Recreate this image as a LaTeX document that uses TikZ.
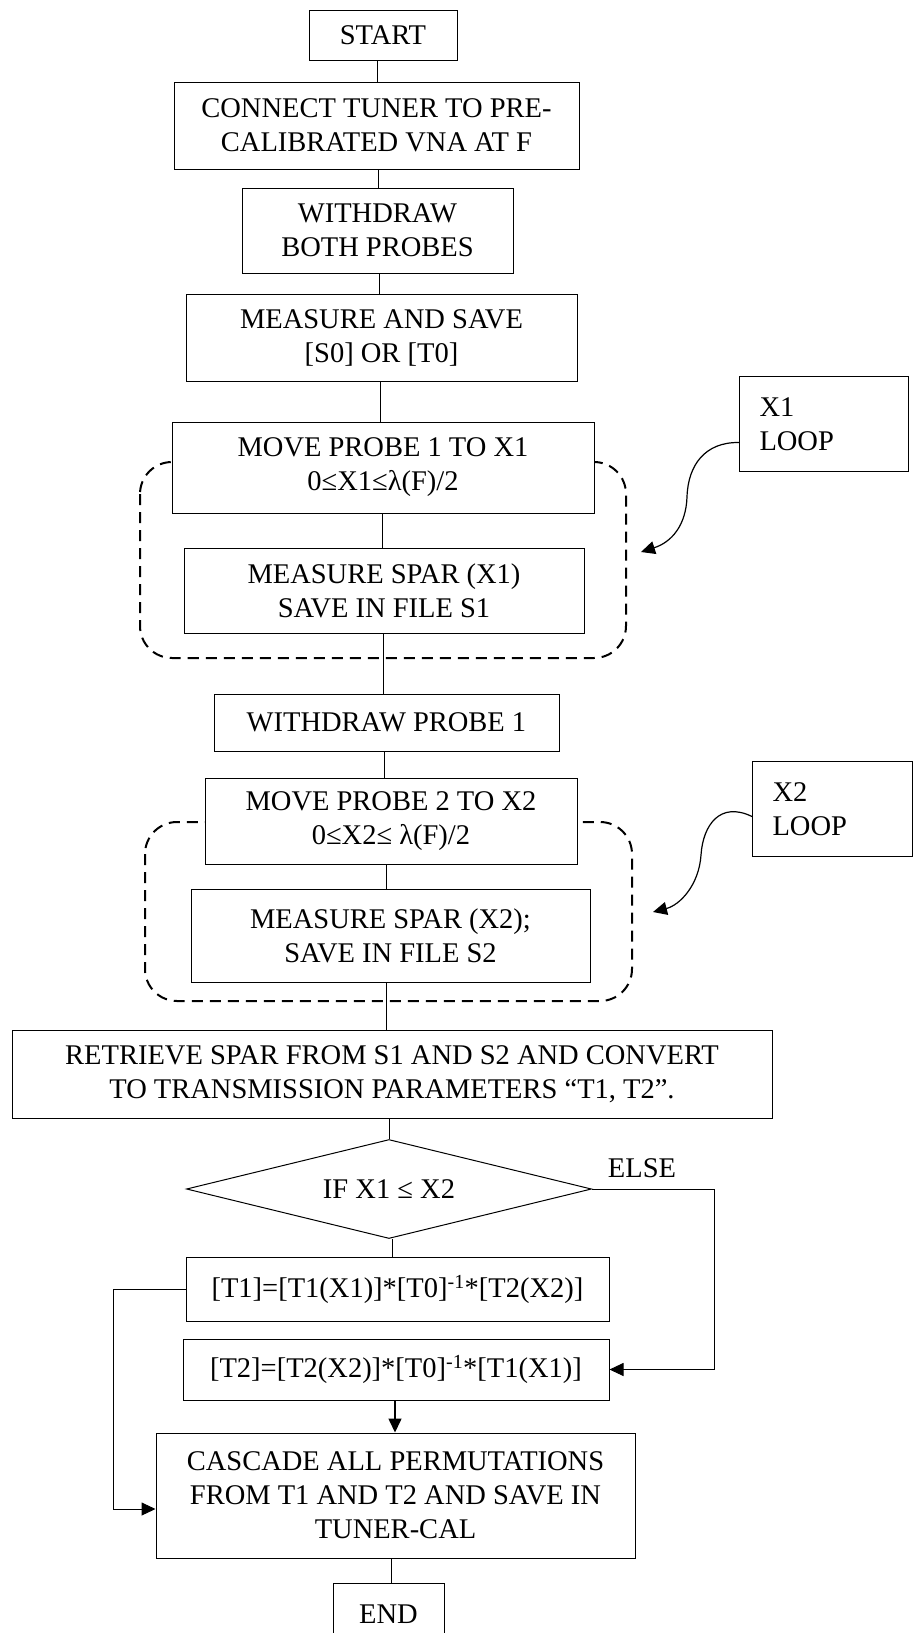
\documentclass[tikz,border=0pt]{standalone}
\usepackage{fontspec}
\setmainfont{Liberation Serif}
\usetikzlibrary{arrows.meta,shapes.geometric}

% vertical connector at a fixed x between the bottom of #2 and the top of #3
\newcommand\vlink[4][]{%
  \coordinate (vx) at (#4,0);
  \draw[conn,#1] (#2.south -| vx) -- (#3.north -| vx);}

\begin{document}
\begin{tikzpicture}[x=1pt,y=-1pt,
  every node/.style={font=\fontsize{28.5}{34}\selectfont},
  box/.style={draw, line width=1pt, fill=white, inner sep=0pt, align=center},
  note/.style={draw, line width=1pt, fill=white, inner ysep=0pt, inner xsep=20pt,
               align=left, anchor=north west},
  conn/.style={line width=1pt},
  arr/.style={line width=1.2pt, -{Triangle[length=14pt,width=13pt]}},
  loopframe/.style={line width=2pt, dash pattern=on 11pt off 7pt, rounded corners=32pt},
]
\useasboundingbox (0,0) rectangle (914,1633);

% dashed frames of the two measurement loops (boxes are drawn on top)
\draw[loopframe] (140,462) rectangle (626,658);
\draw[loopframe] (145,822) rectangle (632,1001);

% process boxes
\node[box, minimum width=148pt, minimum height=50pt] (start) at (383,35) {START};
\node[box, minimum width=405pt, minimum height=87pt] (connect) at (376.5,125.5)
  {CONNECT TUNER TO PRE-\\CALIBRATED VNA AT F};
\node[box, minimum width=271pt, minimum height=85pt] (wboth) at (377.5,230.5)
  {WITHDRAW\\BOTH PROBES};
\node[box, minimum width=391pt, minimum height=87pt] (msave) at (381.5,337.5)
  {MEASURE AND SAVE\\{}[S0] OR [T0]};
\node[box, minimum width=422pt, minimum height=91pt] (move1) at (383,467.5)
  {MOVE PROBE 1 TO X1\\0≤X1≤λ(F)/2};
\node[box, minimum width=400pt, minimum height=85pt] (spar1) at (384,590.5)
  {MEASURE SPAR (X1)\\SAVE IN FILE S1};
\node[box, minimum width=345pt, minimum height=57pt] (wone) at (386.5,722.5)
  {WITHDRAW PROBE 1};
\node[box, minimum width=372pt, minimum height=86pt] (move2) at (391,821)
  {MOVE PROBE 2 TO X2\\0≤X2≤ λ(F)/2};
\node[box, minimum width=399pt, minimum height=93pt] (spar2) at (390.5,935.5)
  {MEASURE SPAR (X2);\\SAVE IN FILE S2};
\node[box, minimum width=760pt, minimum height=88pt] (retr) at (392,1074)
  {RETRIEVE SPAR FROM S1 AND S2 AND CONVERT\\TO TRANSMISSION PARAMETERS “T1, T2”.};
\node[box, diamond, aspect=4, minimum width=405pt, minimum height=99pt] (dia) at (389,1189)
  {IF X1 ≤ X2};
\node (elsetxt) at (642,1168) {ELSE};
\node[box, minimum width=423pt, minimum height=64pt] (t1) at (397.5,1289)
  {[T1]=[T1(X1)]*[T0]\textsuperscript{-1}*[T2(X2)]};
\node[box, minimum width=426pt, minimum height=61pt] (t2) at (396,1369.5)
  {[T2]=[T2(X2)]*[T0]\textsuperscript{-1}*[T1(X1)]};
\node[box, minimum width=479pt, minimum height=125pt] (casc) at (395.5,1495.5)
  {CASCADE ALL PERMUTATIONS\\FROM T1 AND T2 AND SAVE IN\\TUNER-CAL};
\node[box, minimum width=111pt, minimum height=62pt] (fin) at (388.5,1614) {END};

% loop labels
\node[note, text width=129pt, minimum height=95pt] (x1note) at (739,376) {X1\\LOOP};
\node[note, text width=120pt, minimum height=95pt] (x2note) at (752,761) {X2\\LOOP};

% main flow
\vlink{start}{connect}{377}
\vlink{connect}{wboth}{378}
\vlink{wboth}{msave}{379}
\vlink{msave}{move1}{380}
\vlink{move1}{spar1}{382}
\vlink{spar1}{wone}{383}
\vlink{wone}{move2}{384}
\vlink{move2}{spar2}{386}
\vlink{spar2}{retr}{386}
\vlink{retr}{dia}{389}
\vlink{dia}{t1}{392}
\vlink[arr,line width=1.5pt]{t2}{casc}{395}
\vlink{casc}{fin}{391}

% branches
\draw[arr, line width=1pt] (t1.west) -- ++(-72,0) |- ([yshift=-13.5pt]casc.west);
\draw[arr, line width=1pt] (dia.east) -- ++(122,0) |- (t2.east);

% curved pointers from the loop labels
\draw[arr] ([yshift=-18.5pt]x1note.west) .. controls (705,442) and (688,465) .. (687,497)
  .. controls (686,525) and (672,542) .. (641,552);
\draw[arr] ([yshift=-7.5pt]x2note.west) .. controls (720,801) and (703,825) .. (701,855)
  .. controls (699,885) and (680,905) .. (653,912);
\end{tikzpicture}
\end{document}
